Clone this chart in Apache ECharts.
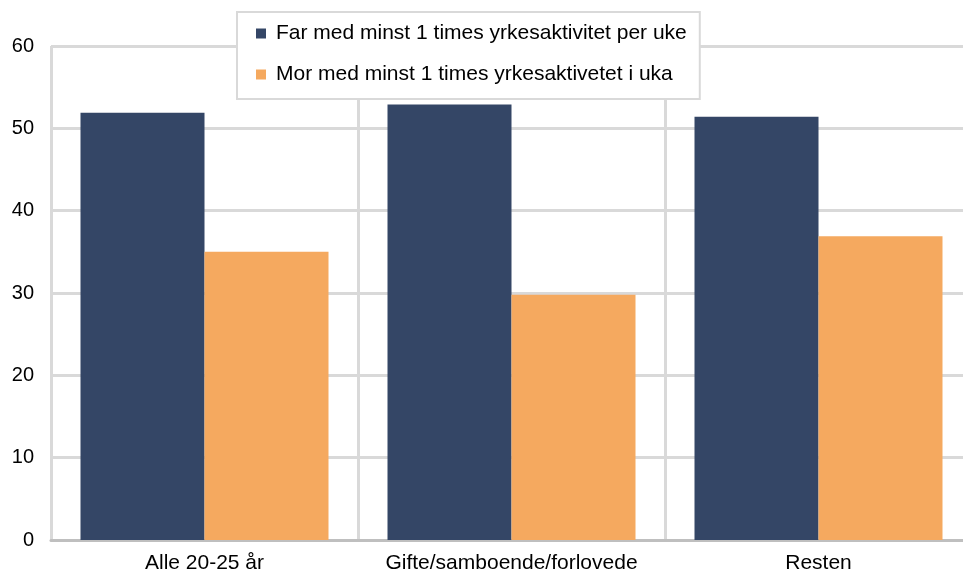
<!DOCTYPE html>
<html>
<head>
<meta charset="utf-8">
<script src="https://cdn.jsdelivr.net/npm/echarts@6/dist/echarts.min.js"></script>
<style>html,body{margin:0;padding:0;background:#fff;overflow:hidden}#c{width:972px;height:574px}</style>
</head>
<body>
<div id="c"></div>
<script>
const categories = ["Alle 20-25 år", "Gifte/samboende/forlovede", "Resten"];
const farName = "Far med minst 1 times yrkesaktivitet per uke";
const morName = "Mor med minst 1 times yrkesaktivetet i uka";
const farValues = [51.9, 52.9, 51.4];
const morValues = [35.0, 29.8, 36.9];
const yTicks = [0, 10, 20, 30, 40, 50, 60];

const chart = echarts.init(document.getElementById('c'));
const font = 'Liberation Sans, Arial, sans-serif';
chart.setOption({
  animation: false,
  textStyle: { fontFamily: font },
  grid: { left: 51, top: 46, right: 0, bottom: 33.5 },
  legend: {
    orient: 'vertical',
    left: 237, top: 12,
    padding: [11, 13, 14, 19],
    itemGap: 20,
    itemWidth: 10, itemHeight: 10,
    icon: 'rect',
    backgroundColor: '#fff',
    borderColor: '#d9d9d9',
    borderWidth: 2,
    textStyle: { fontSize: 21, color: '#000', fontFamily: font, padding: [0, 0, 0, 5] },
    data: [farName, morName]
  },
  xAxis: {
    type: 'category',
    data: categories,
    axisLine: { show: true, lineStyle: { color: '#bfbfbf', width: 3 } },
    axisTick: { show: false },
    axisLabel: { fontSize: 21, color: '#000', margin: 13, fontFamily: font, interval: 0 },
    splitLine: { show: true, interval: 0, lineStyle: { color: '#d9d9d9', width: 3 } }
  },
  yAxis: {
    type: 'value',
    min: yTicks[0], max: yTicks[yTicks.length - 1], interval: 10,
    axisLine: { show: false },
    axisTick: { show: false },
    axisLabel: { fontSize: 20, color: '#000', margin: 17, fontFamily: font },
    splitLine: { show: true, lineStyle: { color: '#d9d9d9', width: 3 } }
  },
  series: [
    { name: farName, type: 'bar', data: farValues, barWidth: 124, barGap: '0%',
      itemStyle: { color: '#344666' } },
    { name: morName, type: 'bar', data: morValues, barWidth: 124, barGap: '0%',
      itemStyle: { color: '#F5A95F' } }
  ]
});
</script>
</body>
</html>
